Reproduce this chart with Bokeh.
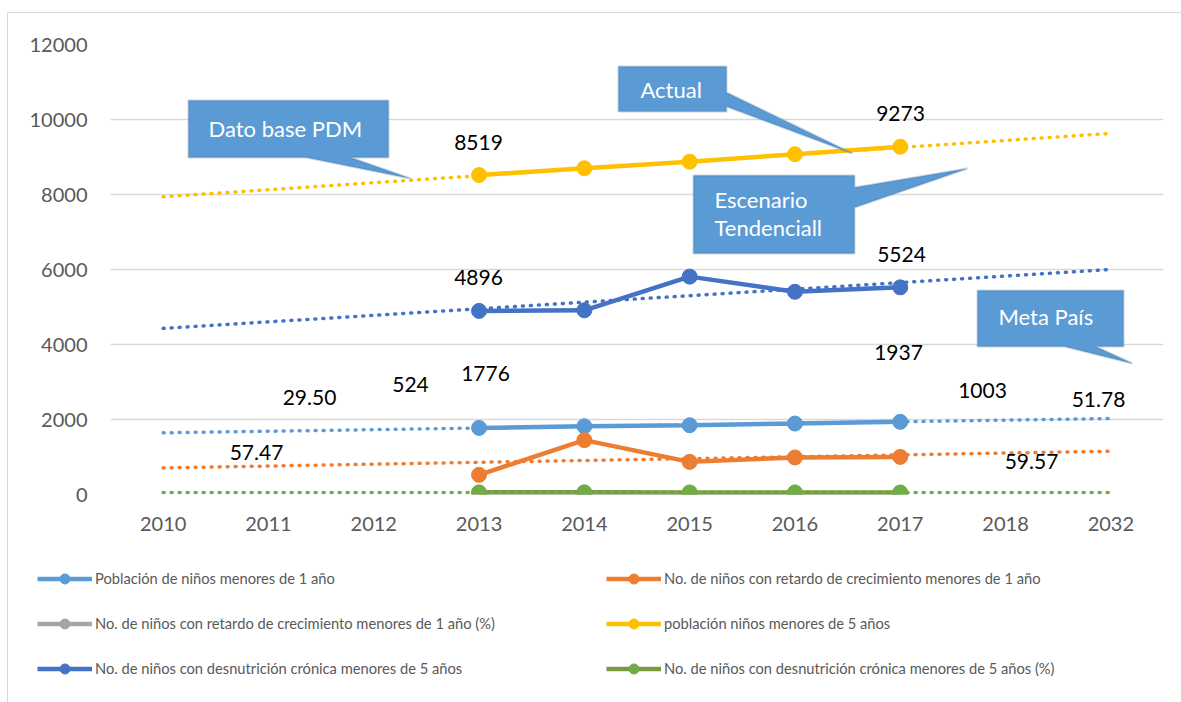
from bokeh.plotting import figure
from bokeh.layouts import column
from bokeh.models import (Range1d, FactorRange, Legend, LegendItem, Label,
                          PolyAnnotation, FixedTicker)
from bokeh.embed import file_html
from bokeh.resources import INLINE

# ---------------- data ----------------
years = ["2010", "2011", "2012", "2013", "2014", "2015", "2016", "2017", "2018", "2032"]
obs_years = ["2013", "2014", "2015", "2016", "2017"]

pob_menores_1 = [1776, 1820, 1848, 1892, 1937]
retardo_menores_1 = [524, 1450, 870, 988, 1003]
retardo_menores_1_pct = [29.50, 30.1, 28.7, 29.3, 28.9]
pob_menores_5 = [8519, 8700, 8875, 9075, 9273]
desnutricion_menores_5 = [4896, 4912, 5810, 5405, 5524]
desnutricion_menores_5_pct = [57.47, 58.9, 56.3, 55.1, 54.6]

trend_years = ["2010", "2032"]
trend_pob_menores_1 = [1645, 2025]
trend_retardo_menores_1 = [710, 1155]
trend_pob_menores_5 = [7940, 9630]
trend_desnutricion_menores_5 = [4430, 6000]
trend_desnutricion_menores_5_pct = [55, 52]

series_names = [
    "Población de niños menores de 1 año",
    "No. de niños con retardo de crecimiento menores de 1 año",
    "No. de niños con retardo de crecimiento menores de 1 año (%)",
    "población niños menores de 5 años",
    "No. de niños con desnutrición crónica menores de 5 años",
    "No. de niños con desnutrición crónica menores de 5 años (%)",
]
y_ticks = [0, 2000, 4000, 6000, 8000, 10000, 12000]

data_label_texts = ["8519", "9273", "4896", "5524", "1776", "1937", "524",
                    "1003", "51.78", "59.57", "29.50", "57.47"]

callout_texts = ["Dato base PDM", "Actual", "Escenario\nTendenciall", "Meta País"]

# ---------------- style ----------------
FONT = "Lato"
AX_COLOR = "#595959"
GRID = "#D9D9D9"
colors = ["#5B9BD5", "#ED7D31", "#A5A5A5", "#FFC000", "#4472C4", "#70AD47"]
line_colors = ["#5B9BD5", "#ED7D31", "#A5A5A5", "#FFC000", "#4472C4", "#7A9A3E"]

# canvas placed at page (OX, OY); frame geometry in page pixels (annotations only)
OX, OY = 8, 13
FL, FR, FT, FB = 110, 1163, 44, 494
SPLIT = 545  # page y where the legend strip starts


def dx(px):
    return (px - FL) / ((FR - FL) / len(years))


def dy(py):
    return (FB - py) / (FB - FT) * 12000


W = 1181 - OX
p = figure(width=W, height=SPLIT - OY,
           x_range=FactorRange(factors=years, range_padding=0),
           y_range=Range1d(0, 12000),
           output_backend="svg", toolbar_location=None,
           min_border_left=FL - OX, min_border_right=1181 - FR,
           min_border_top=FT - OY, min_border_bottom=SPLIT - FB)
p.outline_line_color = None
p.background_fill_color = "white"
p.border_fill_color = "white"

p.xgrid.visible = False
p.ygrid.grid_line_color = GRID
p.ygrid.grid_line_width = 1.5
p.yaxis.ticker = FixedTicker(ticks=y_ticks)

for ax in (p.xaxis[0], p.yaxis[0]):
    ax.axis_line_color = None
    ax.major_tick_line_color = None
    ax.minor_tick_line_color = None
    ax.major_label_text_font = FONT
    ax.major_label_text_font_size = "20px"
    ax.major_label_text_color = AX_COLOR
p.yaxis.major_label_standoff = 17
p.xaxis.major_label_standoff = 16

series = [pob_menores_1, retardo_menores_1, retardo_menores_1_pct,
          pob_menores_5, desnutricion_menores_5, desnutricion_menores_5_pct]
draw_order = [2, 5, 0, 1, 4, 3]
for i in draw_order:
    p.line(obs_years, series[i], line_color=line_colors[i], line_width=4.5)
    p.scatter(obs_years, series[i], size=15, fill_color=colors[i], line_color=colors[i])

trends = [(trend_pob_menores_1, 0), (trend_retardo_menores_1, 1),
          (trend_pob_menores_5, 3), (trend_desnutricion_menores_5, 4),
          (trend_desnutricion_menores_5_pct, 5)]
for vals, ci in trends:
    p.line(trend_years, vals, line_color=colors[ci], line_width=3.5,
           line_dash="1 7", line_cap="round")

# data labels (free floating, as in the source)
label_pos = [(478, 142), (900, 113), (478, 277), (901, 254), (485, 373), (898, 352),
             (410, 384), (982, 390), (1098, 399), (1031, 461), (309, 397), (256, 452)]
for t, (px, py) in zip(data_label_texts, label_pos):
    p.add_layout(Label(x=dx(px), y=dy(py), text=t, text_align="center",
                       text_baseline="middle", text_font=FONT,
                       text_font_size="21px", text_color="black"))

# callouts
callout_shapes = [
    [(188, 100), (388, 100), (388, 157), (350, 157), (410, 178), (306, 157), (188, 157)],
    [(618, 66), (726, 66), (726, 92), (852, 153), (726, 106), (726, 111), (618, 111)],
    [(693, 175), (854, 175), (854, 187), (967, 168), (854, 207), (854, 253), (693, 253)],
    [(977, 290), (1123, 290), (1123, 346), (1095, 346), (1132, 363), (1064, 346), (977, 346)],
]
for shape in callout_shapes:
    p.add_layout(PolyAnnotation(xs=[dx(a) for a, b in shape], ys=[dy(b) for a, b in shape],
                                fill_color="#5B9BD5", fill_alpha=1,
                                line_color="#41719C", line_width=2))

callout_text_pos = [(208, 128), (640, 89), (714, 213), (998, 316)]
for t, (px, py) in zip(callout_texts, callout_text_pos):
    p.add_layout(Label(x=dx(px), y=dy(py), text=t, text_align="left",
                       text_baseline="middle", text_font=FONT,
                       text_font_size="22px", text_color="white",
                       text_line_height=1.05))

# ---------------- legend strip ----------------
LH = 702 - SPLIT
pl = figure(width=W, height=LH, x_range=Range1d(0, 1), y_range=Range1d(0, 1),
            x_axis_type=None, y_axis_type=None, output_backend="svg",
            toolbar_location=None, min_border=0)
pl.outline_line_color = None
pl.grid.visible = False
for fig in (p, pl):
    try:
        fig.frame_align = False
    except Exception:
        pass

items = []
for i in range(6):
    lr = pl.line([-5, -4], [-5, -4], line_color=line_colors[i], line_width=4.5)
    sr = pl.scatter([-5], [-5], size=15, fill_color=colors[i], line_color=colors[i])
    items.append(LegendItem(label=series_names[i], renderers=[lr, sr]))

legend = Legend(items=items, location=(37 - OX, LH - (578 - 12.5 - SPLIT) - 115),
                ncols=2, orientation="horizontal",
                glyph_width=55, glyph_height=25, label_standoff=3,
                label_width=491, spacing=20, padding=0, margin=0,
                label_text_font=FONT, label_text_font_size="14.7px",
                label_text_color=AX_COLOR,
                border_line_color=None, background_fill_alpha=0)
pl.add_layout(legend, "center")

layout = column(p, pl, spacing=0,
                styles={"margin-left": f"{OX}px", "margin-top": f"{OY}px",
                        "outline": f"1px solid {GRID}"})

open("out.html", "w").write(file_html(layout, INLINE))
